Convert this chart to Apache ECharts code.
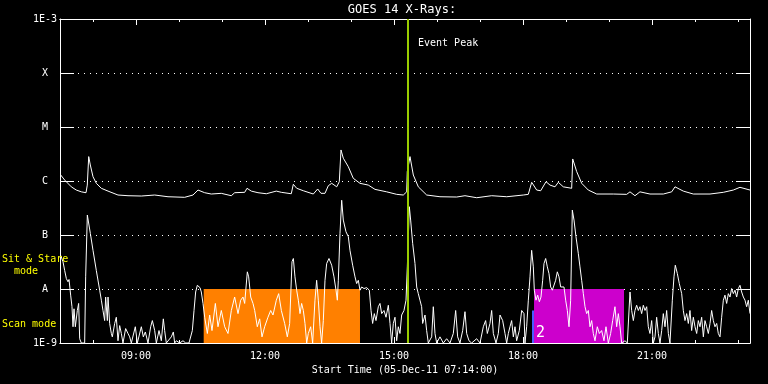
<!DOCTYPE html>
<html>
<head>
<meta charset="utf-8">
<script src="https://cdn.jsdelivr.net/npm/echarts@6/dist/echarts.min.js"></script>
<style>html,body{margin:0;padding:0;background:#000;}#c{width:768px;height:384px;}</style>
</head>
<body>
<div id="c"></div>
<script>
// ---- data (time in decimal hours of 05-Dec-2011, flux in W/m^2) ----
const chartTitle = 'GOES 14 X-Rays:';
const xAxisTitle = 'Start Time (05-Dec-11 07:14:00)';
const tStart = 7.2333;   // 07:14
const tEnd = 23.28;
const majorHours = [9, 12, 15, 18, 21];
const majorHourLabels = ['09:00', '12:00', '15:00', '18:00', '21:00'];
const minorHours = [8, 10, 11, 13, 14, 16, 17, 19, 20, 22, 23];
const yTickValues = [1e-9, 1e-8, 1e-7, 1e-6, 1e-5, 1e-4, 1e-3];
const yTickLabels = ['1E-9', 'A', 'B', 'C', 'M', 'X', '1E-3'];
const eventPeak = 15.326;
const eventLabel = 'Event Peak';
const modeLabels = ['Sit & Stare\n  mode', 'Scan mode'];
const orangeWindow = [10.575, 14.21, 1e-9, 1e-8];
const magentaWindow = [18.257, 20.35, 1e-9, 1e-8];
const blueMarker = [18.21, 18.257, 1e-9, 4e-9];
const windowLabel = '2';

const longChannel = [
[7.25,1.29e-6],[7.343,1.04e-6],[7.496,7.8e-7],[7.612,6.8e-7],[7.729,6.3e-7],[7.838,6.07e-7],[7.868,8.4e-7],[7.901,2.83e-6],
[7.938,1.98e-6],[8.001,1.2e-6],[8.078,9.06e-7],[8.194,7.33e-7],[8.35,6.5e-7],[8.582,5.5e-7],[8.815,5.34e-7],[9.124,5.27e-7],
[9.436,5.5e-7],[9.745,5.11e-7],[10.133,4.99e-7],[10.326,5.5e-7],[10.443,6.8e-7],[10.598,6.07e-7],[10.752,5.74e-7],[10.984,5.91e-7],
[11.217,5.34e-7],[11.296,6.07e-7],[11.529,6.17e-7],[11.582,7.33e-7],[11.682,6.5e-7],[11.838,6.07e-7],[12.031,5.81e-7],[12.264,6.5e-7],
[12.38,6.17e-7],[12.612,5.81e-7],[12.659,8.69e-7],[12.738,7.33e-7],[12.892,6.6e-7],[13.124,5.74e-7],[13.226,7.11e-7],[13.303,5.91e-7],
[13.396,5.91e-7],[13.473,8.18e-7],[13.552,9.06e-7],[13.669,7.8e-7],[13.729,9.7e-7],[13.768,3.76e-6],[13.822,2.64e-6],[13.938,1.84e-6],
[14.054,1.12e-6],[14.21,9.06e-7],[14.403,8.4e-7],[14.559,7.0e-7],[14.831,6.3e-7],[15.064,5.66e-7],[15.217,5.5e-7],[15.296,6.3e-7],
[15.31,1.49e-6],[15.373,2.83e-6],[15.45,1.29e-6],[15.566,7.8e-7],[15.761,5.5e-7],[16.07,5.11e-7],[16.459,5.05e-7],[16.652,5.34e-7],
[16.924,4.9e-7],[17.273,5.34e-7],[17.622,5.11e-7],[18.008,5.5e-7],[18.124,5.66e-7],[18.203,9.46e-7],[18.319,6.8e-7],[18.412,6.6e-7],
[18.536,9.7e-7],[18.629,8.4e-7],[18.745,7.8e-7],[18.822,9.46e-7],[18.938,7.8e-7],[19.133,7.33e-7],[19.157,2.56e-6],[19.25,1.49e-6],
[19.366,9.06e-7],[19.519,6.8e-7],[19.715,5.74e-7],[20.101,5.74e-7],[20.412,5.66e-7],[20.489,6.3e-7],[20.605,5.34e-7],[20.721,6.3e-7],
[20.954,5.74e-7],[21.264,5.74e-7],[21.459,6.3e-7],[21.536,7.8e-7],[21.729,6.5e-7],[21.961,5.74e-7],[22.35,5.74e-7],[22.659,6.17e-7],
[22.892,6.8e-7],[23.047,7.64e-7],[23.28,6.8e-7]
];

const shortChannel = [
[7.249,4.2e-8],[7.303,3.2e-8],[7.342,2.2e-8],[7.381,1.56e-8],[7.419,1.36e-8],[7.443,1.5e-8],[7.481,7.7e-9],[7.512,4.7e-9],
[7.536,2.0e-9],[7.559,4.3e-9],[7.590,2.0e-9],[7.636,4.0e-9],[7.667,5.4e-9],[7.691,1.2e-9],[7.729,1e-9],[7.807,1e-9],
[7.830,1.68e-8],[7.869,2.34e-7],[7.900,2.34e-7],[7.939,1.07e-7],[8.001,5.2e-8],[8.078,2.2e-8],[8.156,9.5e-9],[8.195,6.2e-9],
[8.233,4.0e-9],[8.272,2.6e-9],[8.295,7.1e-9],[8.334,2.6e-9],[8.350,7.1e-9],[8.388,2.3e-9],[8.427,1.5e-9],[8.450,1.3e-9],
[8.505,2.3e-9],[8.543,3.0e-9],[8.582,1.1e-9],[8.621,2.1e-9],[8.660,1.5e-9],[8.698,1e-9],[8.760,1.85e-9],[8.815,1.5e-9],
[8.854,1.3e-9],[8.892,1e-9],[8.985,2.0e-9],[9.032,1e-9],[9.125,2.0e-9],[9.171,1.3e-9],[9.218,1.6e-9],[9.280,1e-9],
[9.342,2.0e-9],[9.381,2.6e-9],[9.435,1.7e-9],[9.474,1e-9],[9.536,1.7e-9],[9.590,1.1e-9],[9.636,2.8e-9],[9.667,1.7e-9],
[9.706,1e-9],[9.822,1.3e-9],[9.869,1.6e-9],[9.900,1e-9],[9.939,1.1e-9],[10.016,1e-9],[10.094,1.1e-9],[10.156,1e-9],
[10.233,1e-9],[10.311,1.7e-9],[10.350,4.0e-9],[10.388,8.8e-9],[10.427,1.17e-8],[10.458,1.09e-8],[10.489,1.06e-8],[10.520,8.8e-9],
[10.559,5.4e-9],[10.598,3.0e-9],[10.660,1.5e-9],[10.714,3.3e-9],[10.768,1.7e-9],[10.846,5.4e-9],[10.908,2.0e-9],[10.985,4.0e-9],
[11.063,2.0e-9],[11.140,1.5e-9],[11.218,4.0e-9],[11.295,7.1e-9],[11.373,3.5e-9],[11.435,6.2e-9],[11.489,7.1e-9],[11.528,5.4e-9],
[11.590,2.08e-8],[11.621,1.68e-8],[11.668,7.1e-9],[11.722,5.4e-9],[11.761,4.0e-9],[11.822,2.0e-9],[11.877,2.8e-9],[11.931,1.3e-9],
[11.993,2.0e-9],[12.070,3.0e-9],[12.133,4.0e-9],[12.187,3.3e-9],[12.264,6.2e-9],[12.319,8.2e-9],[12.381,4.0e-9],[12.458,2.3e-9],
[12.520,1.3e-9],[12.574,2.3e-9],[12.629,3.2e-8],[12.660,3.67e-8],[12.698,1.68e-8],[12.737,9.5e-9],[12.776,6.2e-9],[12.815,3.5e-9],
[12.853,5.4e-9],[12.892,4.0e-9],[12.931,2.3e-9],[12.970,1e-9],[13.008,1.5e-9],[13.063,2.0e-9],[13.109,1e-9],[13.163,6.2e-9],
[13.202,1.45e-8],[13.241,6.2e-9],[13.280,2.0e-9],[13.318,1e-9],[13.357,2.6e-9],[13.396,1.45e-8],[13.435,2.96e-8],[13.489,3.67e-8],
[13.551,2.76e-8],[13.605,1.68e-8],[13.652,9.5e-9],[13.683,6.2e-9],[13.706,1.45e-8],[13.745,1.07e-7],[13.784,4.4e-7],[13.822,1.89e-7],
[13.884,1.15e-7],[13.939,9.3e-8],[13.977,5.2e-8],[14.039,2.76e-8],[14.094,1.68e-8],[14.132,1.26e-8],[14.171,1.45e-8],[14.210,9.5e-9],
[14.249,1.09e-8],[14.303,1.02e-8],[14.365,1.06e-8],[14.427,9.5e-9],[14.466,4.0e-9],[14.504,2.3e-9],[14.543,3.5e-9],[14.582,2.6e-9],
[14.636,4.7e-9],[14.675,5.4e-9],[14.714,3.5e-9],[14.768,4.0e-9],[14.815,3.0e-9],[14.869,5.0e-9],[14.908,2.3e-9],[14.946,1e-9],
[14.985,2.3e-9],[15.024,3.0e-9],[15.063,1.1e-9],[15.101,2.0e-9],[15.140,1.5e-9],[15.179,3.3e-9],[15.233,4.0e-9],[15.280,6.2e-9],
[15.311,2.57e-8],[15.357,3.34e-7],[15.388,1.89e-7],[15.435,7.0e-8],[15.489,2.96e-8],[15.528,1.09e-8],[15.566,8.2e-9],[15.605,6.2e-9],
[15.644,4.7e-9],[15.667,2.3e-9],[15.722,3.3e-9],[15.760,1.7e-9],[15.799,1e-9],[15.877,1.3e-9],[15.915,4.7e-9],[15.954,1.5e-9],
[15.993,1e-9],[16.070,1.3e-9],[16.148,1e-9],[16.225,1.2e-9],[16.303,1e-9],[16.380,1.5e-9],[16.435,4.0e-9],[16.481,1.3e-9],
[16.535,1e-9],[16.598,1.7e-9],[16.652,3.8e-9],[16.691,1.5e-9],[16.745,1.1e-9],[16.807,1e-9],[16.923,1.2e-9],[17.001,1e-9],
[17.078,2.0e-9],[17.132,2.6e-9],[17.171,1.5e-9],[17.233,2.3e-9],[17.272,4.0e-9],[17.311,1.5e-9],[17.373,1e-9],[17.427,1.5e-9],
[17.466,3.3e-9],[17.528,2.6e-9],[17.582,1.5e-9],[17.621,1e-9],[17.660,1.5e-9],[17.698,2.0e-9],[17.737,2.6e-9],[17.776,1.3e-9],
[17.815,2.0e-9],[17.853,1.1e-9],[17.915,1.7e-9],[17.970,4.0e-9],[18.024,3.5e-9],[18.047,1e-9],[18.086,2.0e-9],[18.125,6.2e-9],
[18.164,1.68e-8],[18.202,5.2e-8],[18.241,2.57e-8],[18.264,9.5e-9],[18.303,6.2e-9],[18.342,7.7e-9],[18.381,5.8e-9],[18.419,7.1e-9],
[18.458,1.45e-8],[18.489,2.96e-8],[18.528,3.67e-8],[18.567,2.57e-8],[18.605,1.93e-8],[18.644,1.09e-8],[18.683,9.5e-9],[18.722,1.02e-8],
[18.760,1.45e-8],[18.799,2.08e-8],[18.838,1.68e-8],[18.877,1.09e-8],[18.915,1.02e-8],[18.954,1.09e-8],[18.993,6.2e-9],[19.032,4.0e-9],
[19.071,2.0e-9],[19.109,6.2e-9],[19.148,2.89e-7],[19.187,1.89e-7],[19.233,9.3e-8],[19.288,4.5e-8],[19.326,2.57e-8],[19.365,1.45e-8],
[19.404,8.2e-9],[19.443,4.7e-9],[19.481,3.5e-9],[19.520,4.0e-9],[19.559,2.0e-9],[19.598,2.6e-9],[19.636,1.5e-9],[19.675,1.1e-9],
[19.729,2.0e-9],[19.776,1.5e-9],[19.830,1.7e-9],[19.884,1.1e-9],[19.931,2.0e-9],[19.985,1e-9],[20.039,1.5e-9],[20.086,2.6e-9],
[20.140,4.7e-9],[20.179,2.0e-9],[20.218,3.5e-9],[20.257,2.0e-9],[20.295,1e-9],[20.373,1.1e-9],[20.427,1e-9],[20.489,8.8e-9],
[20.528,4.0e-9],[20.567,2.6e-9],[20.605,4.0e-9],[20.644,5.0e-9],[20.683,4.0e-9],[20.722,4.7e-9],[20.760,3.5e-9],[20.799,5.0e-9],
[20.838,4.0e-9],[20.877,4.7e-9],[20.915,2.0e-9],[20.954,1.5e-9],[20.993,2.6e-9],[21.032,1e-9],[21.071,1.3e-9],[21.109,3.0e-9],
[21.148,1.5e-9],[21.187,1e-9],[21.226,1.7e-9],[21.264,3.5e-9],[21.303,2.0e-9],[21.342,4.0e-9],[21.381,1.5e-9],[21.419,1e-9],
[21.474,6.2e-9],[21.512,1.68e-8],[21.543,2.76e-8],[21.590,1.93e-8],[21.636,1.26e-8],[21.691,8.2e-9],[21.729,4.0e-9],[21.768,2.6e-9],
[21.807,3.5e-9],[21.846,2.3e-9],[21.884,4.0e-9],[21.923,1.7e-9],[21.962,3.0e-9],[22.001,2.0e-9],[22.040,1.5e-9],[22.078,2.6e-9],
[22.117,2.0e-9],[22.156,3.0e-9],[22.195,1.3e-9],[22.233,2.6e-9],[22.272,2.0e-9],[22.311,1.5e-9],[22.350,2.3e-9],[22.388,4.0e-9],
[22.427,2.6e-9],[22.466,2.0e-9],[22.505,2.3e-9],[22.543,1.5e-9],[22.582,1.3e-9],[22.621,3.0e-9],[22.660,6.2e-9],[22.698,7.7e-9],
[22.737,5.4e-9],[22.776,8.2e-9],[22.815,7.1e-9],[22.853,1.02e-8],[22.892,8.2e-9],[22.931,9.5e-9],[22.970,7.1e-9],[23.009,1.02e-8],
[23.047,1.17e-8],[23.086,8.8e-9],[23.125,7.1e-9],[23.164,6.2e-9],[23.202,4.7e-9],[23.241,6.2e-9],[23.280,3.5e-9]
];

// ---- chart ----
const MONO = '"DejaVu Sans Mono", monospace';
const WHITE = '#ffffff';
const chart = echarts.init(document.getElementById('c'), null, {renderer: 'canvas'});

function hourLabel(v) {
  const i = majorHours.indexOf(Math.round(v));
  return i >= 0 ? majorHourLabels[i] : '';
}
function yLabel(v) {
  const i = Math.round(Math.log10(v)) + 9;
  const s = yTickLabels[i] || '';
  return (i === 0 || i === yTickLabels.length - 1) ? s : '{l|' + s + '}';
}
function xAx(pos, ticks, len, extra) {
  return Object.assign({
    type: 'value', min: tStart, max: tEnd, position: pos,
    axisLine: {show: true, lineStyle: {color: WHITE, width: 1}},
    axisTick: {show: true, inside: true, length: len, customValues: ticks, lineStyle: {color: WHITE, width: 1}},
    axisLabel: {show: false},
    splitLine: {show: false}
  }, extra || {});
}
function rect(r, color, label) {
  const a = {xAxis: r[0], yAxis: r[2], itemStyle: {color: color, opacity: 1}};
  if (label) a.label = label;
  return [a, {xAxis: r[1], yAxis: r[3]}];
}

const option = {
  backgroundColor: '#000000',
  animation: false,
  grid: {left: 60, top: 19, width: 690, height: 324, containLabel: false},
  xAxis: [
    xAx('bottom', majorHours, 6, {
      axisLabel: {show: true, customValues: majorHours, formatter: hourLabel, color: WHITE,
        fontFamily: MONO, fontSize: 10, margin: 8},
      name: xAxisTitle, nameLocation: 'middle', nameGap: 21,
      nameTextStyle: {color: WHITE, fontFamily: MONO, fontSize: 10}
    }),
    xAx('bottom', minorHours, 3),
    xAx('top', majorHours, 6),
    xAx('top', minorHours, 3)
  ],
  yAxis: [
    {type: 'log', logBase: 10, min: 1e-9, max: 1e-3, interval: 1, position: 'left',
      axisLine: {show: true, lineStyle: {color: WHITE, width: 1}},
      axisTick: {show: true, inside: true, length: 14, lineStyle: {color: WHITE}},
      minorTick: {show: false},
      axisLabel: {show: true, color: WHITE, fontFamily: MONO, fontSize: 10, margin: 3, formatter: yLabel,
        rich: {l: {color: WHITE, fontFamily: MONO, fontSize: 10, padding: [0, 9, 0, 0]}}},
      splitLine: {show: true, lineStyle: {color: WHITE, width: 1, type: [1, 5]}}
    },
    {type: 'log', logBase: 10, min: 1e-9, max: 1e-3, interval: 1, position: 'right',
      axisLine: {show: true, lineStyle: {color: WHITE, width: 1}},
      axisTick: {show: true, inside: true, length: 14, lineStyle: {color: WHITE}},
      axisLabel: {show: false}, splitLine: {show: false}
    }
  ],
  series: [
    {type: 'line', name: 'windows', data: [], z: 1, silent: true,
      markArea: {silent: true, data: [
        rect(orangeWindow, '#ff8000'),
        rect(magentaWindow, '#cc00cc', {show: true, formatter: windowLabel, position: 'insideBottomLeft',
          distance: 2, color: WHITE, fontFamily: MONO, fontSize: 15}),
        rect(blueMarker, '#4a5cff')
      ]}
    },
    {type: 'line', name: 'long', data: longChannel, z: 3, showSymbol: false, symbol: 'none',
      lineStyle: {color: WHITE, width: 1}, clip: true, silent: true},
    {type: 'line', name: 'short', data: shortChannel, z: 3, showSymbol: false, symbol: 'none',
      lineStyle: {color: WHITE, width: 1}, clip: true, silent: true},
    {type: 'line', name: 'peak', data: [], z: 5, silent: true,
      markLine: {silent: true, symbol: 'none', label: {show: false}, animation: false,
        lineStyle: {color: '#99cc00', width: 2, type: 'solid'},
        data: [{xAxis: eventPeak}]}
    }
  ],
  graphic: [
    {type: 'text', x: 402, y: 10, z: 10, style: {text: chartTitle, fill: WHITE, font: '12px ' + MONO,
      align: 'center', verticalAlign: 'middle', textAlign: 'center', textVerticalAlign: 'middle'}},
    {type: 'text', x: 418, y: 43, z: 10, style: {text: eventLabel, fill: WHITE, font: '10px ' + MONO,
      align: 'left', verticalAlign: 'middle', textAlign: 'left', textVerticalAlign: 'middle'}},
    {type: 'text', x: 2, y: 259, z: 10, style: {text: modeLabels[0], fill: '#ffff00', font: '10px ' + MONO,
      lineHeight: 12, align: 'left', verticalAlign: 'top', textAlign: 'left', textVerticalAlign: 'top'}, y: 253},
    {type: 'text', x: 2, y: 324, z: 10, style: {text: modeLabels[1], fill: '#ffff00', font: '10px ' + MONO,
      align: 'left', verticalAlign: 'middle', textAlign: 'left', textVerticalAlign: 'middle'}}
  ]
};
chart.setOption(option);
</script>
</body>
</html>
